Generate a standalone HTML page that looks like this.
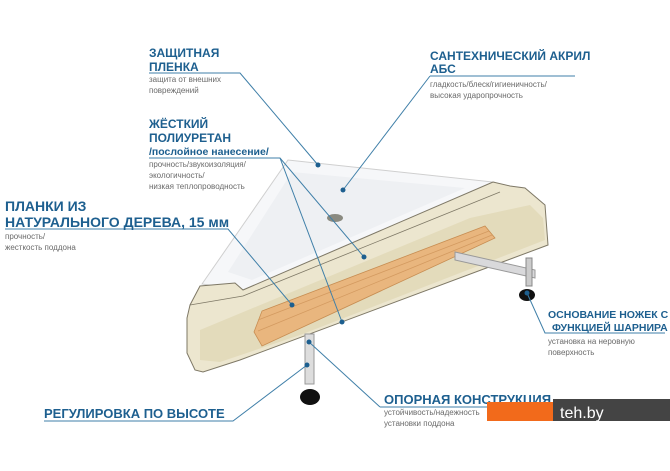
<!DOCTYPE html>
<html><head><meta charset="utf-8"><style>
html,body{margin:0;padding:0;background:#fff;}
svg{display:block;}
.t{font-family:"Liberation Sans",sans-serif;font-weight:bold;fill:#1d5f8f;}
.s{font-family:"Liberation Sans",sans-serif;fill:#6a6a6a;font-size:8px;}
.l{stroke:#3f7fa8;stroke-width:1;fill:none;}
.d{fill:#1d5f8f;}
</style></head><body>
<svg width="670" height="471" viewBox="0 0 670 471" xmlns="http://www.w3.org/2000/svg">
<rect width="670" height="471" fill="#fff"/>
<polygon points="202,284 288,160 493,182 243,290" fill="#f6f7f9" stroke="#cfcfcf"/>
<polygon points="228,272 292,172 465,188 252,280" fill="#eef0f3"/>
<ellipse cx="335" cy="218" rx="8" ry="4" fill="#8a8a80"/>
<polygon points="190,305 200,286 235,283 243,290 493,182 510,186 525,188 545,205 548,245 240,360 203,372 195,370 187,353 187,318" fill="#ece6cf" stroke="#7e7866" stroke-width="1"/>
<polygon points="200,330 470,218 530,205 543,218 545,240 300,335 220,362 200,360" fill="#e3dbbb"/>
<polyline points="190,305 243,296 500,192" fill="none" stroke="#7e7866" stroke-width="0.8"/>
<polygon points="262,311 485,226 495,238 262,346 254,332" fill="#e9b67e" stroke="#c78d52" stroke-width="0.8"/>
<line x1="258" y1="320" x2="489" y2="231" stroke="#d39a60" stroke-width="0.8"/>
<line x1="258" y1="331" x2="492" y2="235" stroke="#d39a60" stroke-width="0.8"/>
<polygon points="455,252 535,270 535,278 455,260" fill="#d9d9db" stroke="#999"/>
<rect x="526" y="258" width="6" height="28" fill="#ccc" stroke="#888"/>
<ellipse cx="527" cy="295" rx="8" ry="6" fill="#111"/>
<rect x="305" y="334" width="9" height="50" fill="#ddd" stroke="#999"/>
<ellipse cx="310" cy="397" rx="10" ry="8" fill="#111"/>
<polyline class="l" points="149,73 240,73 318,165"/>
<polyline class="l" points="430,76 575,76"/><line class="l" x1="430" y1="76" x2="343" y2="190"/>
<polyline class="l" points="149,158 280,158 364,257"/><line class="l" x1="280" y1="158" x2="342" y2="322"/>
<polyline class="l" points="5,229 228,229 292,305"/>
<polyline class="l" points="527,293 545,333 665,333"/>
<polyline class="l" points="44,421 233,421 307,365"/>
<polyline class="l" points="380,407 540,407"/><line class="l" x1="380" y1="407" x2="309" y2="342"/>
<g class="d"><circle cx="318" cy="165" r="2.5"/><circle cx="343" cy="190" r="2.5"/><circle cx="364" cy="257" r="2.5"/><circle cx="342" cy="322" r="2.5"/><circle cx="292" cy="305" r="2.5"/><circle cx="309" cy="342" r="2.5"/><circle cx="307" cy="365" r="2.5"/><circle cx="527" cy="293" r="2.5"/></g>
<text class="t" x="149" y="57" font-size="12">ЗАЩИТНАЯ</text>
<text class="t" x="149" y="71" font-size="12">ПЛЕНКА</text>
<text class="s" x="149" y="82">защита от внешних</text>
<text class="s" x="149" y="93">повреждений</text>
<text class="t" x="430" y="60" font-size="12">САНТЕХНИЧЕСКИЙ АКРИЛ</text>
<text class="t" x="430" y="73" font-size="12">АБС</text>
<text class="s" x="430" y="87">гладкость/блеск/гигиеничность/</text>
<text class="s" x="430" y="98">высокая ударопрочность</text>
<text class="t" x="149" y="128" font-size="12">ЖЁСТКИЙ</text>
<text class="t" x="149" y="142" font-size="12">ПОЛИУРЕТАН</text>
<text class="t" x="149" y="155" font-size="10.5">/послойное нанесение/</text>
<text class="s" x="149" y="167">прочность/звукоизоляция/</text>
<text class="s" x="149" y="178">экологичность/</text>
<text class="s" x="149" y="189">низкая теплопроводность</text>
<text class="t" x="5" y="211" font-size="14">ПЛАНКИ ИЗ</text>
<text class="t" x="5" y="227" font-size="14">НАТУРАЛЬНОГО ДЕРЕВА, 15 мм</text>
<text class="s" x="5" y="239">прочность/</text>
<text class="s" x="5" y="250">жесткость поддона</text>
<text class="t" x="548" y="318" font-size="10.5">ОСНОВАНИЕ НОЖЕК С</text>
<text class="t" x="552" y="331" font-size="10.5">ФУНКЦИЕЙ ШАРНИРА</text>
<text class="s" x="548" y="344">установка на неровную</text>
<text class="s" x="548" y="355">поверхность</text>
<text class="t" x="44" y="418" font-size="13">РЕГУЛИРОВКА ПО ВЫСОТЕ</text>
<text class="t" x="384" y="404" font-size="13">ОПОРНАЯ КОНСТРУКЦИЯ</text>
<text class="s" x="384" y="415">устойчивость/надежность</text>
<text class="s" x="384" y="426">установки поддона</text>
<rect x="553" y="399" width="117" height="22" fill="#444"/>
<rect x="487" y="402" width="66" height="19" fill="#f26a1b"/>
<text x="560" y="418" font-family="Liberation Sans,sans-serif" font-size="16" fill="#fff">teh.by</text>
</svg>
</body></html>
